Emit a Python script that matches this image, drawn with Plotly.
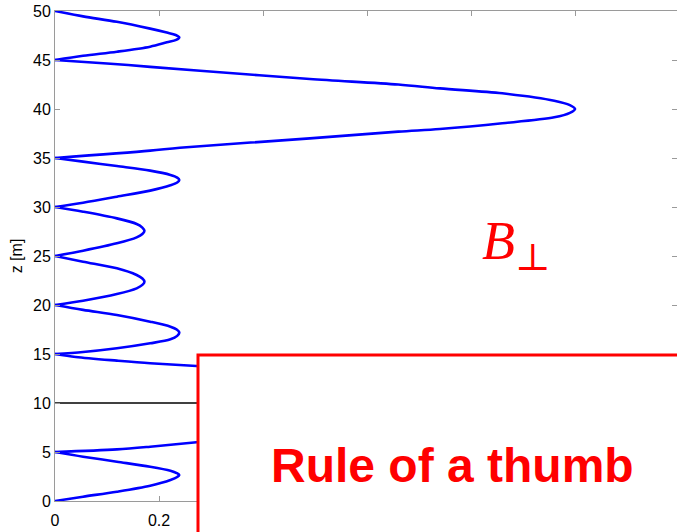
import plotly.graph_objects as go

# Height above ground (m) and the perpendicular field magnitude read along the profile.
# Each lobe is its own segment (None separates them) so the nodes stay sharp.
z_m = [
    0.0, 0.44, 0.95, 1.56, 2.14, 2.45, 2.65, 2.85, 3.09, 3.5, 4.01, 4.52, 5.0, None,
    5.0, 5.27, 5.54, 5.99, 7.0, 7.9, 8.6, 9.3, 10.0, 10.7, 11.4, 12.1, 13.0, 13.78, 14.05, 14.32, 14.7, 15.0, None,
    15.0, 15.2, 15.58, 16.09, 16.5, 16.85, 17.18, 17.5, 17.79, 18.3, 18.98, 19.5, 20.0, None,
    20.0, 20.44, 21.12, 21.7, 22.05, 22.38, 22.7, 23.06, 23.74, 24.42, 25.0, None,
    25.0, 25.54, 26.29, 26.9, 27.25, 27.58, 27.9, 28.27, 28.84, 29.52, 30.0, None,
    30.0, 30.44, 31.05, 31.67, 32.21, 32.5, 32.76, 33.0, 33.27, 33.71, 34.18, 34.63, 35.0, None,
    35.0, 35.75, 36.05, 37.0, 37.69, 37.96, 38.54, 39.15, 39.6, 40.0, 40.4, 40.85,
    41.6, 42.1, 42.5, 43.06, 43.9, 44.3, 44.65, 45.0, None,
    45.0, 45.44, 45.85, 46.36, 46.8, 47.05, 47.3, 47.55, 47.8, 48.2, 48.9, 49.45, 50.0,
]
b_perp = [
    0.0, 0.054, 0.119, 0.183, 0.222, 0.235, 0.239, 0.234, 0.222, 0.183, 0.119, 0.054, 0.0, None,
    0.0, 0.119, 0.183, 0.272, 0.49, 0.74, 0.88, 0.97, 1.0, 0.97, 0.88, 0.74, 0.49, 0.272, 0.183, 0.119, 0.04, 0.0, None,
    0.0, 0.054, 0.119, 0.183, 0.222, 0.235, 0.239, 0.234, 0.222, 0.183, 0.119, 0.054, 0.0, None,
    0.0, 0.054, 0.119, 0.157, 0.168, 0.172, 0.168, 0.157, 0.119, 0.054, 0.0, None,
    0.0, 0.054, 0.119, 0.157, 0.168, 0.172, 0.168, 0.157, 0.119, 0.054, 0.0, None,
    0.0, 0.054, 0.119, 0.183, 0.222, 0.235, 0.239, 0.235, 0.222, 0.183, 0.119, 0.054, 0.0, None,
    0.0, 0.183, 0.24, 0.49, 0.66, 0.74, 0.86, 0.96, 0.99, 1.0, 0.99, 0.96,
    0.86, 0.74, 0.66, 0.49, 0.279, 0.183, 0.10, 0.0, None,
    0.0, 0.054, 0.119, 0.183, 0.215, 0.233, 0.239, 0.232, 0.215, 0.183, 0.119, 0.054, 0.0,
]

# Reference height marked by a horizontal line
z_ref = [10.0, 10.0]
b_ref = [0.0, 1.2]

x_ticks = [0, 0.2, 0.4, 0.6, 0.8, 1.0, 1.2]
x_tick_text = ["0", "0.2", "0.4", "0.6", "0.8", "1", "1.2"]
y_ticks = [0, 5, 10, 15, 20, 25, 30, 35, 40, 45, 50]

axis_grey = "#9a9a9a"
sans = "Liberation Sans, Arial, sans-serif"
tick_font = dict(family=sans, size=16, color="black")

fig = go.Figure()
fig.add_trace(go.Scatter(x=b_ref, y=z_ref, mode="lines",
                         line=dict(color="black", width=1.6), hoverinfo="skip"))
fig.add_trace(go.Scatter(x=b_perp, y=z_m, mode="lines", connectgaps=False,
                         line=dict(color="#0000ff", width=2.6, shape="spline", smoothing=0.9),
                         hoverinfo="skip"))

fig.update_layout(
    width=677, height=532,
    margin=dict(l=55, r=0, t=11, b=31),
    paper_bgcolor="white", plot_bgcolor="white",
    showlegend=False, hovermode=False,
    xaxis=dict(range=[0, 1.196], tickvals=x_ticks, ticktext=x_tick_text,
               ticks="inside", ticklen=5, tickcolor=axis_grey, tickwidth=1,
               showline=True, linecolor=axis_grey, linewidth=1, mirror="ticks",
               showgrid=False, zeroline=False, tickfont=tick_font,
               ticklabelstandoff=5),
    yaxis=dict(range=[0, 50], tickvals=y_ticks,
               ticks="inside", ticklen=5, tickcolor=axis_grey, tickwidth=1,
               showline=True, linecolor=axis_grey, linewidth=1, mirror="ticks",
               showgrid=False, zeroline=False, tickfont=tick_font,
               ticklabelstandoff=0,
               title=dict(text="z [m]", font=dict(family=sans, size=16, color="black"),
                          standoff=6)),
)

# White panel with red frame carrying the headline
fig.add_shape(type="rect", xref="paper", yref="paper",
              x0=0.2299, x1=1.1, y0=-0.2, y1=0.298,
              line=dict(color="#ff0000", width=3), fillcolor="white", layer="above")

fig.add_annotation(x=0.765, y=3.6, xref="x", yref="y",
                   text="<b>Rule of a thumb</b>", showarrow=False,
                   font=dict(family=sans, size=48, color="#ff0000"),
                   xanchor="center", yanchor="middle")

fig.add_annotation(x=0.818, y=26.2, xref="x", yref="y",
                   text="<i>B</i><sub>⊥</sub>", showarrow=False,
                   font=dict(family="Liberation Serif, DejaVu Serif, serif", size=54, color="#ff0000"),
                   xanchor="left", yanchor="middle")

fig.write_html("out.html")
